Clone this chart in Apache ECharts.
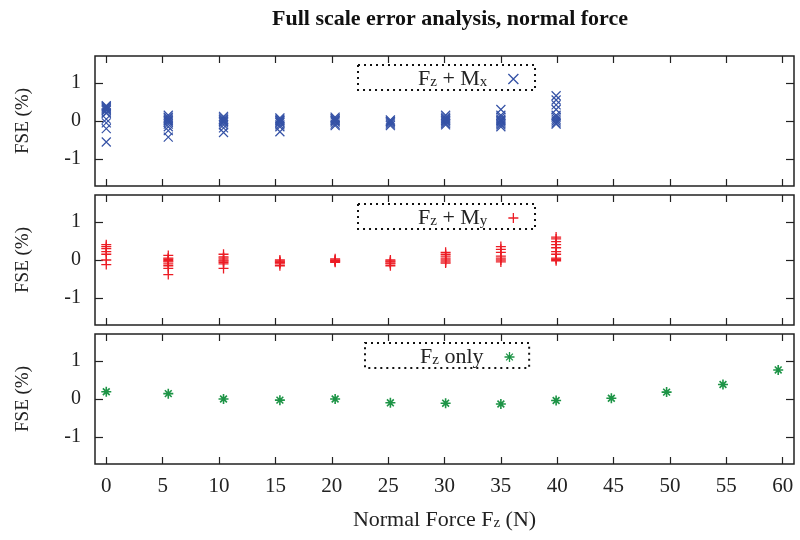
<!DOCTYPE html>
<html>
<head>
<meta charset="utf-8">
<script src="https://cdn.jsdelivr.net/npm/echarts@6/dist/echarts.min.js"></script>
<style>
  html, body { margin: 0; padding: 0; background: #fff; }
  #chart { width: 800px; height: 540px; }
</style>
</head>
<body>
<div id="chart"></div>
<script>
// ticks
var xTicks = [0, 5, 10, 15, 20, 25, 30, 35, 40, 45, 50, 55, 60];
var yTicks = [-1, 0, 1];

// Fz + Mx (several repeated measurements per load)
var forceMx = [0, 5.5, 10.4, 15.4, 20.3, 25.2, 30.1, 35.0, 39.9];
var fseMx = [
    [0.4, 0.38, 0.35, 0.33, 0.3, 0.27, 0.22, 0.2, 0.05, -0.05, -0.2, -0.55],
    [0.15, 0.1, 0.08, 0.05, 0.02, 0, -0.03, -0.08, -0.15, -0.25, -0.42],
    [0.12, 0.08, 0.05, 0.03, 0, -0.02, -0.05, -0.1, -0.18, -0.3],
    [0.08, 0.05, 0.02, 0, -0.03, -0.05, -0.1, -0.15, -0.28],
    [0.1, 0.07, 0.05, 0.02, 0, -0.03, -0.08, -0.12],
    [0.03, 0, -0.02, -0.05, -0.08, -0.12],
    [0.15, 0.1, 0.07, 0.05, 0.02, 0, -0.03, -0.07, -0.1],
    [0.3, 0.15, 0.1, 0.05, 0.02, 0, -0.03, -0.07, -0.1, -0.15],
    [0.66, 0.55, 0.42, 0.3, 0.15, 0.1, 0.05, 0, -0.05, -0.08]
];

// Fz + My
var forceMy = [0, 5.5, 10.4, 15.4, 20.3, 25.2, 30.1, 35.0, 39.9];
var fseMy = [
    [0.4, 0.35, 0.3, 0.22, 0.15, 0.0, -0.12],
    [0.12, 0.05, 0.02, -0.02, -0.05, -0.1, -0.15, -0.22, -0.38],
    [0.15, 0.08, 0.05, 0, -0.03, -0.06, -0.1, -0.22],
    [0, -0.03, -0.05, -0.07, -0.1, -0.15],
    [0.03, 0, -0.02, -0.04, -0.06],
    [0, -0.03, -0.05, -0.08, -0.1, -0.15],
    [0.2, 0.15, 0.1, 0.05, 0, -0.05, -0.08],
    [0.35, 0.28, 0.2, 0.1, 0.05, 0, -0.05],
    [0.6, 0.55, 0.48, 0.4, 0.32, 0.22, 0.15, 0.05, 0.02, -0.02]
];

// Fz only
var forceOnly = [0, 5.5, 10.4, 15.4, 20.3, 25.2, 30.1, 35.0, 39.9, 44.8, 49.7, 54.7, 59.6];
var fseOnly = [0.19, 0.14, 0.0, -0.03, 0.0, -0.1, -0.11, -0.13, -0.04, 0.02, 0.18, 0.38, 0.76];

var FONT = 'Liberation Serif';
var AXIS_COLOR = '#222';

function flatten(forces, values){
    var out = [];
    forces.forEach(function(f, i){
        var v = values[i];
        if (Array.isArray(v)) {
            v.forEach(function(y){ out.push([f, y]); });
        } else {
            out.push([f, v]);
        }
    });
    return out;
}

var grids = [
    { left: 95, right: 6, top: 56, height: 130 },
    { left: 95, right: 6, top: 195, height: 130 },
    { left: 95, right: 6, top: 334, height: 130 }
];
grids.forEach(function(g){
    g.show = true;
    g.borderColor = AXIS_COLOR;
    g.borderWidth = 1.5;
    g.backgroundColor = 'transparent';
});

// subscript text styles (main text + lowered small text)
var textRich = {
    n: { fontFamily: FONT, fontSize: 22, color: '#222', lineHeight: 22, verticalAlign: 'top' },
    s: { fontFamily: FONT, fontSize: 15, color: '#222', lineHeight: 15, verticalAlign: 'bottom',
         padding: [10, 0, 0, 0] },
    g: { width: 16 }
};

var xAxes = [];
var yAxes = [];
for (var i = 0; i < 3; i++) {
    // bottom / top x axes (gnuplot style mirrored ticks)
    ['bottom', 'top'].forEach(function(pos){
        xAxes.push({
            type: 'value', gridIndex: i, position: pos,
            min: -1, max: 61,
            splitLine: { show: false },
            axisLine: { show: false, onZero: false },
            axisTick: { show: true, inside: true, length: 7, customValues: xTicks,
                        lineStyle: { color: AXIS_COLOR, width: 1.2 } },
            axisLabel: { show: (pos === 'bottom' && i === 2), customValues: xTicks,
                         margin: 12, color: '#222', fontFamily: FONT, fontSize: 21 },
            name: (pos === 'bottom' && i === 2) ? '{n|Normal Force F}{s|z}{n| (N)}' : '',
            nameLocation: 'middle', nameGap: 45,
            nameTextStyle: { color: '#222', fontFamily: FONT, fontSize: 22, rich: textRich }
        });
    });
    ['left', 'right'].forEach(function(pos){
        yAxes.push({
            type: 'value', gridIndex: i, position: pos,
            min: -1.7, max: 1.7,
            splitLine: { show: false },
            axisLine: { show: false, onZero: false },
            axisTick: { show: true, inside: true, length: 8, customValues: yTicks,
                        lineStyle: { color: AXIS_COLOR, width: 1.2 } },
            axisLabel: { show: pos === 'left', customValues: yTicks,
                         margin: 14, color: '#222', fontFamily: FONT, fontSize: 20 },
            name: pos === 'left' ? 'FSE (%)' : '',
            nameLocation: 'middle', nameGap: 62, nameRotate: 90,
            nameTextStyle: { color: '#222', fontFamily: FONT, fontSize: 19 }
        });
    });
}

function makeLegend(name, text, left, top, padding){
    return {
        data: [name],
        left: left, top: top,
        orient: 'horizontal',
        align: 'right',
        padding: padding,
        itemWidth: 10, itemHeight: 10,
        itemStyle: { borderWidth: 1.3 },
        borderColor: '#111', borderWidth: 2, borderType: [2, 4],
        selectedMode: false,
        formatter: function(){ return text; },
        textStyle: { fontFamily: FONT, fontSize: 22, color: '#222', rich: textRich }
    };
}

var CROSS = 'path://M0,0L10,10M10,0L0,10';
var PLUS = 'path://M5,0L5,10M0,5L10,5';
var STAR = 'path://M5,0L5,10M0,5L10,5M1.6,1.6L8.4,8.4M8.4,1.6L1.6,8.4';

function scatter(name, xi, yi, data, symbol, size, color, lw){
    return {
        name: name, type: 'scatter',
        xAxisIndex: xi, yAxisIndex: yi,
        data: data,
        symbol: symbol, symbolSize: size,
        itemStyle: { color: color, borderColor: color, borderWidth: lw, opacity: 1 },
        emphasis: { disabled: true }
    };
}

var myChart = echarts.init(document.getElementById('chart'));
var option = {
    animation: false,
    backgroundColor: '#fff',
    title: {
        text: 'Full scale error analysis, normal force',
        left: 445, top: 3, textAlign: 'center',
        textStyle: { fontFamily: FONT, fontSize: 22, fontWeight: 'bold', color: '#111' }
    },
    legend: [
        makeLegend('Fz + Mx', '{n|F}{s|z}{n| + M}{s|x}{g|}', 358, 65, [0, 16, 0, 60]),
        makeLegend('Fz + My', '{n|F}{s|z}{n| + M}{s|y}{g|}', 358, 204, [0, 16, 0, 60]),
        makeLegend('Fz only', '{n|F}{s|z}{n| only}{g|}', 365, 343, [0, 14, 0, 55])
    ],
    grid: grids,
    xAxis: xAxes,
    yAxis: yAxes,
    series: [
        scatter('Fz + Mx', 0, 0, flatten(forceMx, fseMx), CROSS, 9, '#3552a6', 1.2),
        scatter('Fz + My', 2, 2, flatten(forceMy, fseMy), PLUS, 10, '#ec1c24', 1.3),
        scatter('Fz only', 4, 4, flatten(forceOnly, fseOnly), STAR, 10, '#1d9446', 1.6)
    ]
};
myChart.setOption(option);
</script>
</body>
</html>
